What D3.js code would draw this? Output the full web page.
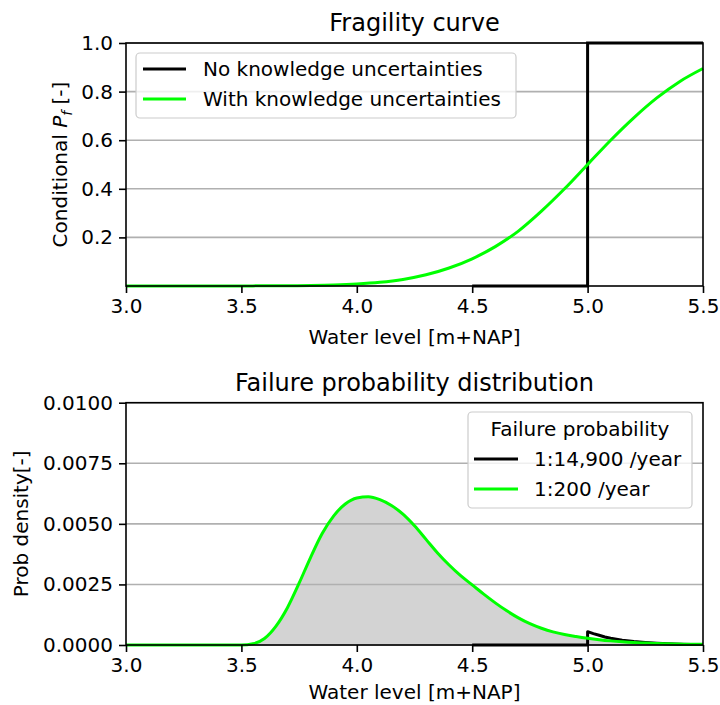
<!DOCTYPE html>
<html><head><meta charset="utf-8">
<script src="https://cdn.jsdelivr.net/npm/d3@7"></script>
<style>
body{margin:0;background:#fff}
svg{display:block}
text{font-family:"DejaVu Sans",sans-serif;fill:#000}
</style>
</head><body>
<svg id="chart" width="720" height="705"></svg>
<script>
// Tick positions
const xTicks = [3.0, 3.5, 4.0, 4.5, 5.0, 5.5];
const pfTicks = [0.2, 0.4, 0.6, 0.8, 1.0];
const densityTicks = [0, 0.0025, 0.005, 0.0075, 0.01];

// Fragility curve with knowledge uncertainties (water level -> conditional Pf)
const fragilityLevels = [3.0, 3.1, 3.2, 3.3, 3.4, 3.5, 3.6, 3.7, 3.8, 3.9, 4.0, 4.1, 4.2, 4.3, 4.4,
  4.5, 4.6, 4.7, 4.8, 4.9, 5.0, 5.1, 5.2, 5.3, 5.4, 5.5];
const fragilityWithUnc = [0, 0, 0, 0, 0, 0, 0.001, 0.001, 0.002, 0.004, 0.008, 0.015, 0.027, 0.046, 0.074,
  0.112, 0.162, 0.226, 0.308, 0.400, 0.500, 0.600, 0.692, 0.774, 0.842, 0.895];

// Fragility curve without knowledge uncertainties (step at the critical level)
const stepLevels = [4.5, 5.0, 5.0, 5.5];
const stepPf = [0, 0, 1, 1];

// Failure probability density with knowledge uncertainties
const densityLevels = [3.0, 3.1, 3.2, 3.3, 3.4, 3.5, 3.55, 3.6, 3.65, 3.7, 3.75, 3.8, 3.85, 3.9, 3.95,
  4.0, 4.05, 4.1, 4.15, 4.2, 4.25, 4.3, 4.35, 4.4, 4.45, 4.5, 4.55, 4.6, 4.65, 4.7, 4.75, 4.8,
  4.85, 4.9, 4.95, 5.0, 5.05, 5.1, 5.15, 5.2, 5.25, 5.3, 5.35, 5.4, 5.45, 5.5];
const densityWithUnc = [0, 0, 0, 0, 0, 0, 0.00005, 0.00027, 0.00078, 0.00155, 0.00255, 0.00362, 0.00460, 0.00533, 0.00582,
  0.00607, 0.00612, 0.00600, 0.00576, 0.00540, 0.00492, 0.00436, 0.00380, 0.00330, 0.00286, 0.00248, 0.00210, 0.00174, 0.00141, 0.00112, 0.00088, 0.00069,
  0.00054, 0.00043, 0.00035, 0.00028, 0.00022, 0.00017, 0.00013, 0.00010, 0.00008, 0.00006, 0.00005, 0.00004, 0.00003, 0.00003];

// Failure probability density without knowledge uncertainties
const densityNoUncLevels = [4.5, 5.0, 5.0, 5.025, 5.05, 5.075, 5.1, 5.15, 5.2, 5.25, 5.3, 5.35, 5.4, 5.45, 5.5];
const densityNoUnc = [0, 0, 0.00055, 0.00047, 0.00040, 0.00033, 0.00028, 0.00020, 0.00014, 0.00010, 0.00007, 0.00005, 0.000035, 0.000025, 0.00002];

// Text
const topTitle = "Fragility curve";
const bottomTitle = "Failure probability distribution";
const xLabel = "Water level [m+NAP]";
const topLegend = ["No knowledge uncertainties", "With knowledge uncertainties"];
const bottomLegendTitle = "Failure probability";
const bottomLegend = ["1:14,900 /year", "1:200 /year"];

const GREEN = "#00ff00";
const GRID = "#b0b0b0";

const svg = d3.select("#chart");
const left = 126, right = 703;
const x = d3.scaleLinear().domain([3.0, 5.5]).range([left, right]);

function drawPanel(opts) {
  const { top, bottom, y, yTicks, yFormat, title, xLabelOffset } = opts;
  const g = svg.append("g");

  // horizontal grid
  g.append("g").selectAll("line").data(yTicks).join("line")
    .attr("x1", left).attr("x2", right)
    .attr("y1", d => y(d)).attr("y2", d => y(d))
    .attr("stroke", GRID).attr("stroke-width", 1.6);

  const marks = g.append("g");

  // x axis
  const xa = g.append("g").attr("transform", `translate(0,${bottom})`)
    .call(d3.axisBottom(x).tickValues(xTicks).tickFormat(d3.format(".1f")).tickSize(7).tickPadding(6));
  // y axis
  const ya = g.append("g").attr("transform", `translate(${left},0)`)
    .call(d3.axisLeft(y).tickValues(yTicks).tickFormat(yFormat).tickSize(7).tickPadding(6));
  [xa, ya].forEach(a => {
    a.select(".domain").remove();
    a.selectAll(".tick line").attr("stroke", "#000").attr("stroke-width", 1.6);
    a.selectAll(".tick text").attr("font-size", 20).attr("font-family", '"DejaVu Sans", sans-serif').attr("fill", "#000");
  });

  // spines
  g.append("rect").attr("x", left).attr("y", top).attr("width", right - left).attr("height", bottom - top)
    .attr("fill", "none").attr("stroke", "#000").attr("stroke-width", 1.6);

  // title
  g.append("text").attr("x", (left + right) / 2).attr("y", top - 12)
    .attr("text-anchor", "middle").attr("font-size", 24).text(title);

  // x label
  g.append("text").attr("x", (left + right) / 2).attr("y", bottom + xLabelOffset)
    .attr("text-anchor", "middle").attr("font-size", 20).text(xLabel);

  return { g, marks };
}

// ---------- Top panel: fragility curve ----------
const yTop = d3.scaleLinear().domain([0, 1]).range([286, 43]);
const topPanel = drawPanel({ top: 43, bottom: 286, y: yTop, yTicks: pfTicks, yFormat: d3.format(".1f"), title: topTitle, xLabelOffset: 58 });

topPanel.marks.append("path")
  .datum(stepLevels.map((v, i) => [v, stepPf[i]]))
  .attr("d", d3.line().x(d => x(d[0])).y(d => yTop(d[1])).curve(d3.curveLinear))
  .attr("fill", "none").attr("stroke", "#000").attr("stroke-width", 3);
topPanel.marks.append("path")
  .datum(fragilityLevels.map((v, i) => [v, fragilityWithUnc[i]]))
  .attr("d", d3.line().x(d => x(d[0])).y(d => yTop(d[1])).curve(d3.curveMonotoneX))
  .attr("fill", "none").attr("stroke", GREEN).attr("stroke-width", 3);

// y label with math subscript
const yl1 = topPanel.g.append("text")
  .attr("transform", `translate(67,${(43 + 286) / 2}) rotate(-90)`)
  .attr("text-anchor", "middle").attr("font-size", 20);
yl1.append("tspan").text("Conditional ");
yl1.append("tspan").attr("font-style", "italic").text("P");
yl1.append("tspan").attr("font-style", "italic").attr("font-size", 14).attr("dy", 5).text("f");
yl1.append("tspan").attr("dy", -5).text(" [-]");

// top legend
{
  const lg = topPanel.g.append("g");
  lg.append("rect").attr("x", 136).attr("y", 53).attr("width", 380).attr("height", 65).attr("rx", 4)
    .attr("fill", "#fff").attr("fill-opacity", 0.8).attr("stroke", "#cccccc").attr("stroke-width", 1.2);
  const colors = ["#000", GREEN];
  topLegend.forEach((t, i) => {
    const yy = 69 + i * 30;
    lg.append("line").attr("x1", 143).attr("x2", 186).attr("y1", yy).attr("y2", yy)
      .attr("stroke", colors[i]).attr("stroke-width", 3);
    lg.append("text").attr("x", 203).attr("y", yy + 7).attr("font-size", 20).text(t);
  });
}

// ---------- Bottom panel: failure probability density ----------
const yBot = d3.scaleLinear().domain([0, 0.01]).range([645, 402.7]);
const botPanel = drawPanel({ top: 402.7, bottom: 645, y: yBot, yTicks: densityTicks, yFormat: d3.format(".4f"), title: bottomTitle, xLabelOffset: 54 });

const greenPts = densityLevels.map((v, i) => [v, densityWithUnc[i]]);
// shaded area under the curve sits beneath the grid
botPanel.g.insert("path", ":first-child")
  .datum(greenPts)
  .attr("d", d3.area().x(d => x(d[0])).y0(yBot(0)).y1(d => yBot(d[1])).curve(d3.curveMonotoneX))
  .attr("fill", "#d3d3d3");

botPanel.marks.append("path")
  .datum(densityNoUncLevels.map((v, i) => [v, densityNoUnc[i]]))
  .attr("d", d3.line().x(d => x(d[0])).y(d => yBot(d[1])).curve(d3.curveLinear))
  .attr("fill", "none").attr("stroke", "#000").attr("stroke-width", 3).attr("stroke-linejoin", "round");
botPanel.marks.append("path")
  .datum(greenPts)
  .attr("d", d3.line().x(d => x(d[0])).y(d => yBot(d[1])).curve(d3.curveMonotoneX))
  .attr("fill", "none").attr("stroke", GREEN).attr("stroke-width", 3);

botPanel.g.append("text")
  .attr("transform", `translate(28,${(402.7 + 645) / 2}) rotate(-90)`)
  .attr("text-anchor", "middle").attr("font-size", 20).text("Prob density[-]");

// bottom legend
{
  const lg = botPanel.g.append("g");
  lg.append("rect").attr("x", 468).attr("y", 412).attr("width", 224).attr("height", 96).attr("rx", 4)
    .attr("fill", "#fff").attr("fill-opacity", 0.8).attr("stroke", "#cccccc").attr("stroke-width", 1.2);
  lg.append("text").attr("x", 580).attr("y", 436).attr("text-anchor", "middle").attr("font-size", 20).text(bottomLegendTitle);
  const colors = ["#000", GREEN];
  bottomLegend.forEach((t, i) => {
    const yy = 459 + i * 30;
    lg.append("line").attr("x1", 474).attr("x2", 518).attr("y1", yy).attr("y2", yy)
      .attr("stroke", colors[i]).attr("stroke-width", 3);
    lg.append("text").attr("x", 534).attr("y", yy + 7).attr("font-size", 20).text(t);
  });
}
</script>
</body></html>
